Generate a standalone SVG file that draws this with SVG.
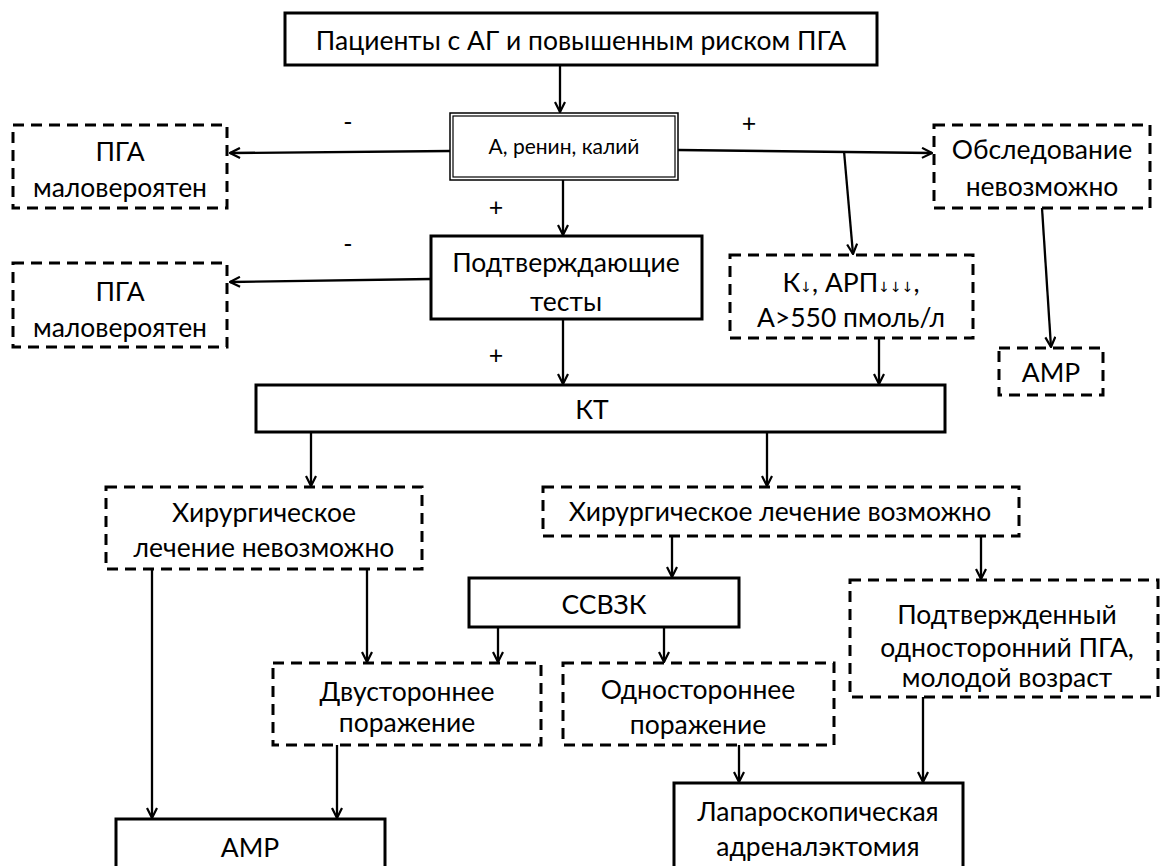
<svg xmlns="http://www.w3.org/2000/svg" width="1162" height="866" viewBox="0 0 1162 866">
<defs>
<marker id="ah" viewBox="0 0 12 12" refX="11" refY="6" markerWidth="12" markerHeight="12" markerUnits="userSpaceOnUse" orient="auto">
<path d="M1,1 L11,6 L1,11" fill="none" stroke="#000" stroke-width="2.2"/>
</marker>
<style>
.solid{fill:#fff;stroke:#000;stroke-width:3}
.dash{fill:#fff;stroke:#000;stroke-width:3;stroke-dasharray:11 7}
.t{font-family:Lato,"Open Sans","Liberation Sans",sans-serif;font-size:26.5px;fill:#000;text-anchor:middle}
.s{font-size:21px}
.ar{font-family:"DejaVu Sans",sans-serif;font-size:14px;fill:#000}
.c{fill:none;stroke:#000;stroke-width:2.3;marker-end:url(#ah)}
.sign{font-family:Lato,"Liberation Sans",sans-serif;font-size:25px;fill:#000;text-anchor:middle}
</style>
</defs>
<rect width="1162" height="866" fill="#fff"/>

<g id="connectors">
<path class="c" d="M560,65 L560,112"/>
<path class="c" d="M450,151 L230,153"/>
<path class="c" d="M678,150 L932,153"/>
<path class="c" d="M844,151 L853,254"/>
<path class="c" d="M563,180 L563,235"/>
<path class="c" d="M431,279 L230,282"/>
<path class="c" d="M1042,208 L1051,347"/>
<path class="c" d="M563,319 L563,384"/>
<path class="c" d="M879,338 L879,384"/>
<path class="c" d="M311,432 L311,486"/>
<path class="c" d="M767,432 L767,486"/>
<path class="c" d="M672,536 L672,577"/>
<path class="c" d="M981,536 L981,579"/>
<path class="c" d="M498,627 L498,662"/>
<path class="c" d="M664,627 L664,662"/>
<path class="c" d="M152,569 L152,818"/>
<path class="c" d="M367,569 L367,662"/>
<path class="c" d="M337,745 L337,818"/>
<path class="c" d="M739,745 L739,782"/>
<path class="c" d="M923,697 L923,782"/>
<text class="sign" x="348" y="131">-</text>
<text class="sign" x="749" y="132">+</text>
<text class="sign" x="496" y="216">+</text>
<text class="sign" x="348" y="253">-</text>
<text class="sign" x="496" y="364">+</text>
</g>

<g id="n_top">
<rect class="solid" x="285" y="13" width="592" height="52"/>
<text class="t" x="581" y="50">Пациенты с АГ и повышенным риском ПГА</text>
</g>

<g id="n_arenin">
<rect x="450" y="113" width="228" height="67" fill="#fff" stroke="#000" stroke-width="1.5"/>
<rect x="453" y="116" width="222" height="61" fill="none" stroke="#000" stroke-width="1.2"/>
<text class="t s" x="564" y="154">А, ренин, калий</text>
</g>

<g id="n_pga1">
<rect class="dash" x="13" y="125" width="214" height="83"/>
<text class="t" x="120" y="161">ПГА</text>
<text class="t" x="120" y="197">маловероятен</text>
</g>

<g id="n_obsl">
<rect class="dash" x="934" y="125" width="216" height="83"/>
<text class="t" x="1042" y="159">Обследование</text>
<text class="t" x="1042" y="196">невозможно</text>
</g>

<g id="n_podtv">
<rect class="solid" x="431" y="236" width="271" height="83"/>
<text class="t" x="566" y="272">Подтверждающие</text>
<text class="t" x="566" y="311">тесты</text>
</g>

<g id="n_pga2">
<rect class="dash" x="13" y="263" width="214" height="84"/>
<text class="t" x="120" y="301">ПГА</text>
<text class="t" x="120" y="337">маловероятен</text>
</g>

<g id="n_k">
<rect class="dash" x="730" y="255" width="243" height="83"/>
<text class="t" x="851" y="292">К<tspan class="ar">↓</tspan>, АРП<tspan class="ar">↓↓↓</tspan>,</text>
<text class="t" x="851" y="327">А&gt;550 пмоль/л</text>
</g>

<g id="n_amr1">
<rect class="dash" x="999" y="348" width="104" height="47"/>
<text class="t" x="1051" y="382">АМР</text>
</g>

<g id="n_kt">
<rect class="solid" x="256" y="385" width="689" height="47"/>
<text class="t" x="592" y="419">КТ</text>
</g>

<g id="n_hir_no">
<rect class="dash" x="106" y="487" width="316" height="82"/>
<text class="t" x="264" y="522">Хирургическое</text>
<text class="t" x="264" y="557">лечение невозможно</text>
</g>

<g id="n_hir_yes">
<rect class="dash" x="543" y="487" width="476" height="49"/>
<text class="t" x="780" y="521">Хирургическое лечение возможно</text>
</g>

<g id="n_ssvzk">
<rect class="solid" x="469" y="578" width="270" height="49"/>
<text class="t" x="604" y="614">ССВЗК</text>
</g>

<g id="n_confirmed">
<rect class="dash" x="850" y="580" width="308" height="117"/>
<text class="t" x="1007" y="624">Подтвержденный</text>
<text class="t" x="1007" y="657">односторонний ПГА,</text>
<text class="t" x="1007" y="687">молодой возраст</text>
</g>

<g id="n_bilat">
<rect class="dash" x="273" y="663" width="268" height="82"/>
<text class="t" x="407" y="701">Двустороннее</text>
<text class="t" x="407" y="732">поражение</text>
</g>

<g id="n_unilat">
<rect class="dash" x="563" y="663" width="271" height="82"/>
<text class="t" x="698" y="699">Одностороннее</text>
<text class="t" x="698" y="734">поражение</text>
</g>

<g id="n_amr2">
<rect class="solid" x="116" y="819" width="269" height="60"/>
<text class="t" x="250" y="857">АМР</text>
</g>

<g id="n_lap">
<rect class="solid" x="674" y="783" width="289" height="96"/>
<text class="t" x="818" y="821">Лапароскопическая</text>
<text class="t" x="818" y="856">адреналэктомия</text>
</g>
</svg>
